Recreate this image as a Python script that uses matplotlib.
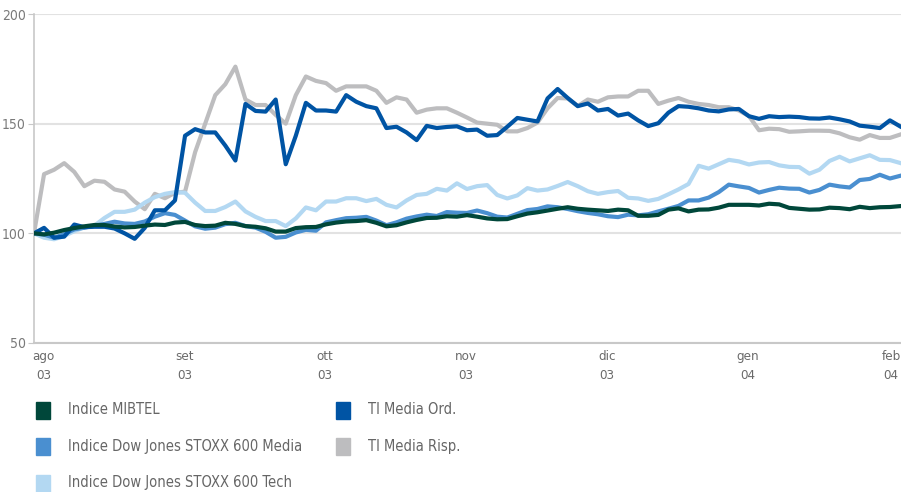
import matplotlib
matplotlib.use("Agg")
import matplotlib.pyplot as plt
from matplotlib.patches import Rectangle
import numpy as np

plt.rcParams["font.family"] = ["DejaVu Sans"]
plt.rcParams["font.stretch"] = "condensed"

# ── data (indexed, base 100), one value every ~2 trading days ──
months = ["ago\n03", "set\n03", "ott\n03", "nov\n03", "dic\n03", "gen\n04", "feb\n04"]
month_pos = [0.94, 15.0, 28.9, 42.9, 56.9, 70.9, 85.1]

mibtel = [100, 99.5, 100.3, 101.5, 102.4, 103.2, 103.8, 103.8, 103.1, 102.7,
          102.9, 103.5, 104, 103.8, 104.9, 105.2, 103.8, 103.3, 103.5, 104.8,
          104.3, 103.3, 103, 102.3, 100.8, 100.8, 102.4, 102.8, 102.9, 104.1,
          104.9, 105.4, 105.6, 106, 104.8, 103.2, 103.7, 105, 106.1, 107,
          107.1, 107.8, 107.6, 108.3, 107.6, 106.8, 106.4, 106.5, 107.8, 109,
          109.6, 110.4, 111.2, 111.9, 111.2, 110.8, 110.5, 110.2, 110.8, 110.5,
          108, 108, 108.4, 110.8, 111.4, 110, 110.8, 110.9, 111.7, 113,
          113, 113, 112.7, 113.5, 113.2, 111.6, 111.2, 110.8, 110.9, 111.7,
          111.5, 111, 112.1, 111.5, 111.9, 112, 112.4]

stoxx_media = [100, 99.4, 98, 99.6, 101.8, 102.6, 103.4, 104.3, 105.3, 104.5,
               104.3, 105.4, 107.6, 109.2, 108.4, 105.8, 103.2, 102.1, 102.6, 104.2,
               104.8, 103.3, 102.6, 100.7, 98, 98.4, 100.4, 101.6, 101.2, 105,
               106, 106.9, 107.1, 107.5, 105.8, 103.7, 105, 106.7, 107.7, 108.5,
               107.9, 109.7, 109.4, 109.3, 110.4, 109.2, 107.6, 107.2, 108.9, 110.6,
               111.1, 112.3, 111.9, 111.1, 110.1, 109.3, 108.7, 107.8, 107.4, 108.5,
               108.2, 108.7, 110, 111.2, 112.5, 115, 115, 116.3, 118.8, 122.2,
               121.4, 120.7, 118.6, 119.8, 120.8, 120.4, 120.3, 118.6, 119.8, 122.2,
               121.4, 120.9, 124.3, 124.8, 126.7, 125, 126.2]

stoxx_tech = [100, 98, 97.3, 98.8, 101, 102.7, 103.5, 107, 109.8, 109.8,
              110.8, 114, 116.5, 118, 118.8, 118.5, 114, 110.2, 110.2, 112,
              114.5, 110, 107.5, 105.6, 105.6, 103.3, 106.8, 111.8, 110.5, 114.5,
              114.5, 116, 116, 114.7, 115.7, 113, 111.8, 115, 117.5, 118,
              120.3, 119.5, 122.8, 120.2, 121.5, 122, 117.5, 115.9, 117.3, 120.6,
              119.5, 120, 121.6, 123.4, 121.5, 119.2, 118, 118.8, 119.3, 116.2,
              115.9, 114.8, 115.7, 117.8, 120, 122.5, 130.8, 129.5, 131.5, 133.5,
              132.8, 131.4, 132.3, 132.5, 131, 130.3, 130.2, 127.2, 129, 133,
              134.9, 132.8, 134.2, 135.6, 133.5, 133.4, 132.1]

ti_ord = [100, 102.5, 98, 98.5, 104, 102.8, 103, 103, 102.2, 100,
          97.5, 102.5, 110.5, 110.5, 115, 144.5, 147.5, 146, 146, 140,
          133.2, 159, 155.8, 155.5, 161, 131.5, 144.5, 159.5, 156, 156,
          155.5, 163, 160, 158, 157, 148, 148.6, 146, 142.5, 149,
          148, 148.5, 148.8, 147, 147.3, 144.5, 144.8, 148.6, 152.6, 151.8,
          151, 161.5, 165.8, 161.7, 158, 159.2, 156, 156.7, 153.7, 154.6,
          151.5, 148.9, 150.2, 155, 158, 157.7, 157, 156, 155.6, 156.5,
          156.7, 153.4, 152.2, 153.4, 153, 153.2, 153, 152.4, 152.3, 152.8,
          152, 151, 149.1, 148.6, 148, 151.5, 148.8]

ti_risp = [100, 127, 129, 132, 128, 121.5, 124, 123.5, 120, 119,
           114.5, 111, 118, 116, 118.5, 119, 137, 150, 163, 168,
           176, 161, 158.5, 158.5, 154, 150, 163, 171.5, 169.5, 168.5,
           165, 167, 167, 167, 165, 159.5, 162, 161, 155, 156.4,
           157, 157, 155, 152.8, 150.5, 150, 149.5, 146.5, 146.5, 148,
           150.5, 157, 161.7, 161.5, 158, 161, 160, 162, 162.4, 162.4,
           165, 165, 159, 160.5, 161.7, 160, 159, 158.5, 157.5, 157.5,
           156, 153.5, 147, 147.7, 147.5, 146.3, 146.5, 146.8, 146.8, 146.7,
           145.6, 143.8, 142.7, 144.8, 143.5, 143.5, 145]

series = [
    ("TI Media Risp.", ti_risp, "#bdbdbf"),
    ("Indice Dow Jones STOXX 600 Tech", stoxx_tech, "#b3d8f2"),
    ("Indice Dow Jones STOXX 600 Media", stoxx_media, "#4a8fd0"),
    ("TI Media Ord.", ti_ord, "#0054a4"),
    ("Indice MIBTEL", mibtel, "#00473a"),
]

W, H = 901, 492
fig = plt.figure(figsize=(W / 100, H / 100), dpi=100)
ax = fig.add_axes([34 / W, 1 - 343 / H, (W - 34) / W, (343 - 14) / H])

for name, vals, color in series:
    ax.plot(np.arange(len(vals)), vals, color=color, lw=3, solid_joinstyle="round", zorder=3)

ax.set_xlim(0, 86.1)
ax.set_ylim(50, 200)
ax.set_yticks([50, 100, 150, 200])
ax.set_xticks(month_pos)
ax.set_xticklabels(months, linespacing=1.6)
for sp in ("top", "right"):
    ax.spines[sp].set_visible(False)
ax.spines["left"].set_color("#c8c8c8")
ax.spines["left"].set_linewidth(1.2)
ax.spines["bottom"].set_color("#c8c8c8")
ax.spines["bottom"].set_linewidth(1.5)
ax.grid(axis="y", color="#e2e2e2", lw=1.5, zorder=0)
ax.tick_params(axis="y", colors="#c8c8c8", labelcolor="#7a7a7a", labelsize=10, length=4, pad=2)
ax.tick_params(axis="x", length=0, labelcolor="#6a6a6a", labelsize=9.5, pad=5)

# ── legend, drawn by hand in two columns ──
legend_items = [
    ("Indice MIBTEL", "#00473a", 36, 410),
    ("TI Media Ord.", "#0054a4", 336, 410),
    ("Indice Dow Jones STOXX 600 Media", "#4a8fd0", 36, 446),
    ("TI Media Risp.", "#bdbdbf", 336, 446),
    ("Indice Dow Jones STOXX 600 Tech", "#b3d8f2", 36, 483),
]
for label, color, px, py in legend_items:
    fig.add_artist(Rectangle((px / W, 1 - (py + 8.5) / H), 14 / W, 17 / H,
                             transform=fig.transFigure, color=color))
    fig.text((px + 32) / W, 1 - py / H, label, va="center", ha="left",
             fontsize=10.5, color="#666666")

fig.savefig("out.png", dpi=100)
